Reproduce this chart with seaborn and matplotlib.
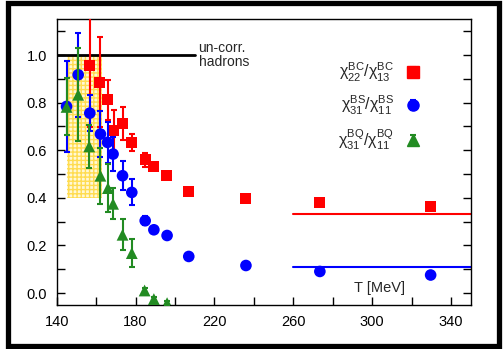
import numpy as np
import pandas as pd
import matplotlib
matplotlib.use("Agg")
import matplotlib.pyplot as plt
import seaborn as sns
from matplotlib.patches import Rectangle
from matplotlib.container import ErrorbarContainer
from matplotlib.legend_handler import HandlerErrorbar

# --- data -------------------------------------------------------------
T_bc = [156.8, 161.9, 165.8, 168.9, 173.4, 178.1, 184.9, 189.3, 195.9, 207.0, 236.0, 273.5, 329.7]
r_bc = [0.956, 0.886, 0.812, 0.682, 0.711, 0.633, 0.560, 0.532, 0.494, 0.427, 0.396, 0.381, 0.364]
e_bc = [0.26, 0.19, 0.085, 0.085, 0.07, 0.035, 0.03, 0.01, 0.01, 0.01, 0.01, 0.01, 0.01]

T_bs = [145.0, 150.9, 156.8, 162.2, 165.8, 168.6, 173.4, 178.1, 184.9, 189.3, 196.0, 207.0, 236.0, 273.5, 329.7]
r_bs = [0.784, 0.917, 0.756, 0.668, 0.633, 0.584, 0.493, 0.423, 0.304, 0.266, 0.242, 0.154, 0.116, 0.091, 0.076]
e_bs = [0.19, 0.177, 0.077, 0.097, 0.085, 0.073, 0.062, 0.055, 0.02, 0.01, 0.01, 0.01, 0.01, 0.01, 0.01]

T_bq = [145.0, 150.9, 156.5, 162.2, 166.0, 168.6, 173.4, 178.1, 184.6, 189.3, 196.0]
r_bq = [0.782, 0.833, 0.616, 0.493, 0.441, 0.375, 0.245, 0.168, 0.011, -0.025, -0.042]
e_bq = [0.12, 0.195, 0.09, 0.117, 0.10, 0.065, 0.065, 0.058, 0.01, 0.01, 0.01]

labels = [r"$\mathregular{χ^{BC}_{22}/χ^{BC}_{13}}$",
          r"$\mathregular{χ^{BS}_{31}/χ^{BS}_{11}}$",
          r"$\mathregular{χ^{BQ}_{31}/χ^{BQ}_{11}}$"]

# free (uncorrelated) hadron gas value and high-T limits
hrg_level = 1.0
hrg_T = [140, 210]
free_bc = 1 / 3
free_bs = 1 / 9
free_T = [260, 350]

# transition band: T_c = 154 +- 9 MeV
band_T = (145, 163)
band_y = (0.4, 1.0)

xticks = [140, 160, 180, 200, 220, 240, 260, 280, 300, 320, 340]
xticklabels = ["140", "", "180", "", "220", "", "260", "", "300", "", "340"]
yticks = np.round(np.arange(0.0, 1.11, 0.1), 1)
yticklabels = [f"{v:.1f}" if i % 2 == 0 else "" for i, v in enumerate(yticks)]

# --- style ------------------------------------------------------------
sns.set_theme(style="ticks")
plt.rcParams["font.family"] = ["Liberation Sans", "DejaVu Sans"]
plt.rcParams["hatch.linewidth"] = 1.0

RED, BLUE, GREEN = "#ff0000", "#0000ff", "#228b22"

fig = plt.figure(figsize=(5.03, 3.49), dpi=100)
ax = fig.add_axes([0.1127, 0.126, 0.823, 0.8187])

# transition band
ax.add_patch(Rectangle((band_T[0], band_y[0]), band_T[1] - band_T[0], band_y[1] - band_y[0],
                       facecolor="#fff8d6", edgecolor="#ffdc50", hatch="++++", lw=0, zorder=1))

# reference levels
sns.lineplot(x=hrg_T, y=[hrg_level] * 2, color="black", lw=2, ax=ax, zorder=2)
sns.lineplot(x=free_T, y=[free_bc] * 2, color=RED, lw=1.5, ax=ax, zorder=2)
sns.lineplot(x=free_T, y=[free_bs] * 2, color=BLUE, lw=1.5, ax=ax, zorder=2)

series = [
    (T_bc, r_bc, e_bc, RED, "s", 62, 3),
    (T_bs, r_bs, e_bs, BLUE, "o", 70, 5),
    (T_bq, r_bq, e_bq, GREEN, "^", 72, 7),
]
handles = []
for (T, r, e, c, m, s, z), lab in zip(series, labels):
    ax.errorbar(T, r, yerr=e, fmt="none", ecolor=c, elinewidth=1.5,
                capsize=2, capthick=1.5, zorder=z)
    df = pd.DataFrame({"T": T, "r": r})
    sns.scatterplot(data=df, x="T", y="r", marker=m, s=s, color=c,
                    edgecolor="none", linewidth=0, ax=ax, zorder=z + 1, legend=False)
    h = ax.errorbar([np.nan], [np.nan], yerr=[np.nan], fmt=m, color=c, ms=8,
                    elinewidth=1.5, capsize=2, capthick=1.5, label=lab)
    handles.append(h)

ax.set_xlim(140, 350)
ax.set_ylim(-0.05, 1.15)
ax.set_xticks(xticks)
ax.set_xticklabels(xticklabels)
ax.set_yticks(yticks)
ax.set_yticklabels(yticklabels)
ax.set_xlabel("")
ax.set_ylabel("")
ax.tick_params(axis="both", direction="in", length=6, width=1, pad=7,
               labelsize=10.5, color="black", labelcolor="black")
ax.tick_params(axis="y", right=True)
for sp in ax.spines.values():
    sp.set_visible(True)
    sp.set_color("black")
    sp.set_linewidth(1.0)

ax.text(212, 1.0, "un-corr.\nhadrons", ha="left", va="center", fontsize=10,
        linespacing=0.95)
ax.text(304, 0.02, "T [MeV]", ha="center", va="center", fontsize=10.5)

ax.legend(handles=handles, labels=labels, loc="upper right",
          bbox_to_anchor=(0.915, 0.905), frameon=False, markerfirst=False,
          fontsize=11.5, handlelength=1.0, handletextpad=0.7, labelspacing=0.62,
          handler_map={ErrorbarContainer: HandlerErrorbar(yerr_size=0.3)})

# outer frame around the whole figure
fig.patches.append(Rectangle((7.5 / 503, 3 / 349), 491 / 503, 343 / 349,
                             transform=fig.transFigure, fill=False,
                             edgecolor="black", lw=3.8, zorder=10))

fig.savefig("out.png", dpi=100)
